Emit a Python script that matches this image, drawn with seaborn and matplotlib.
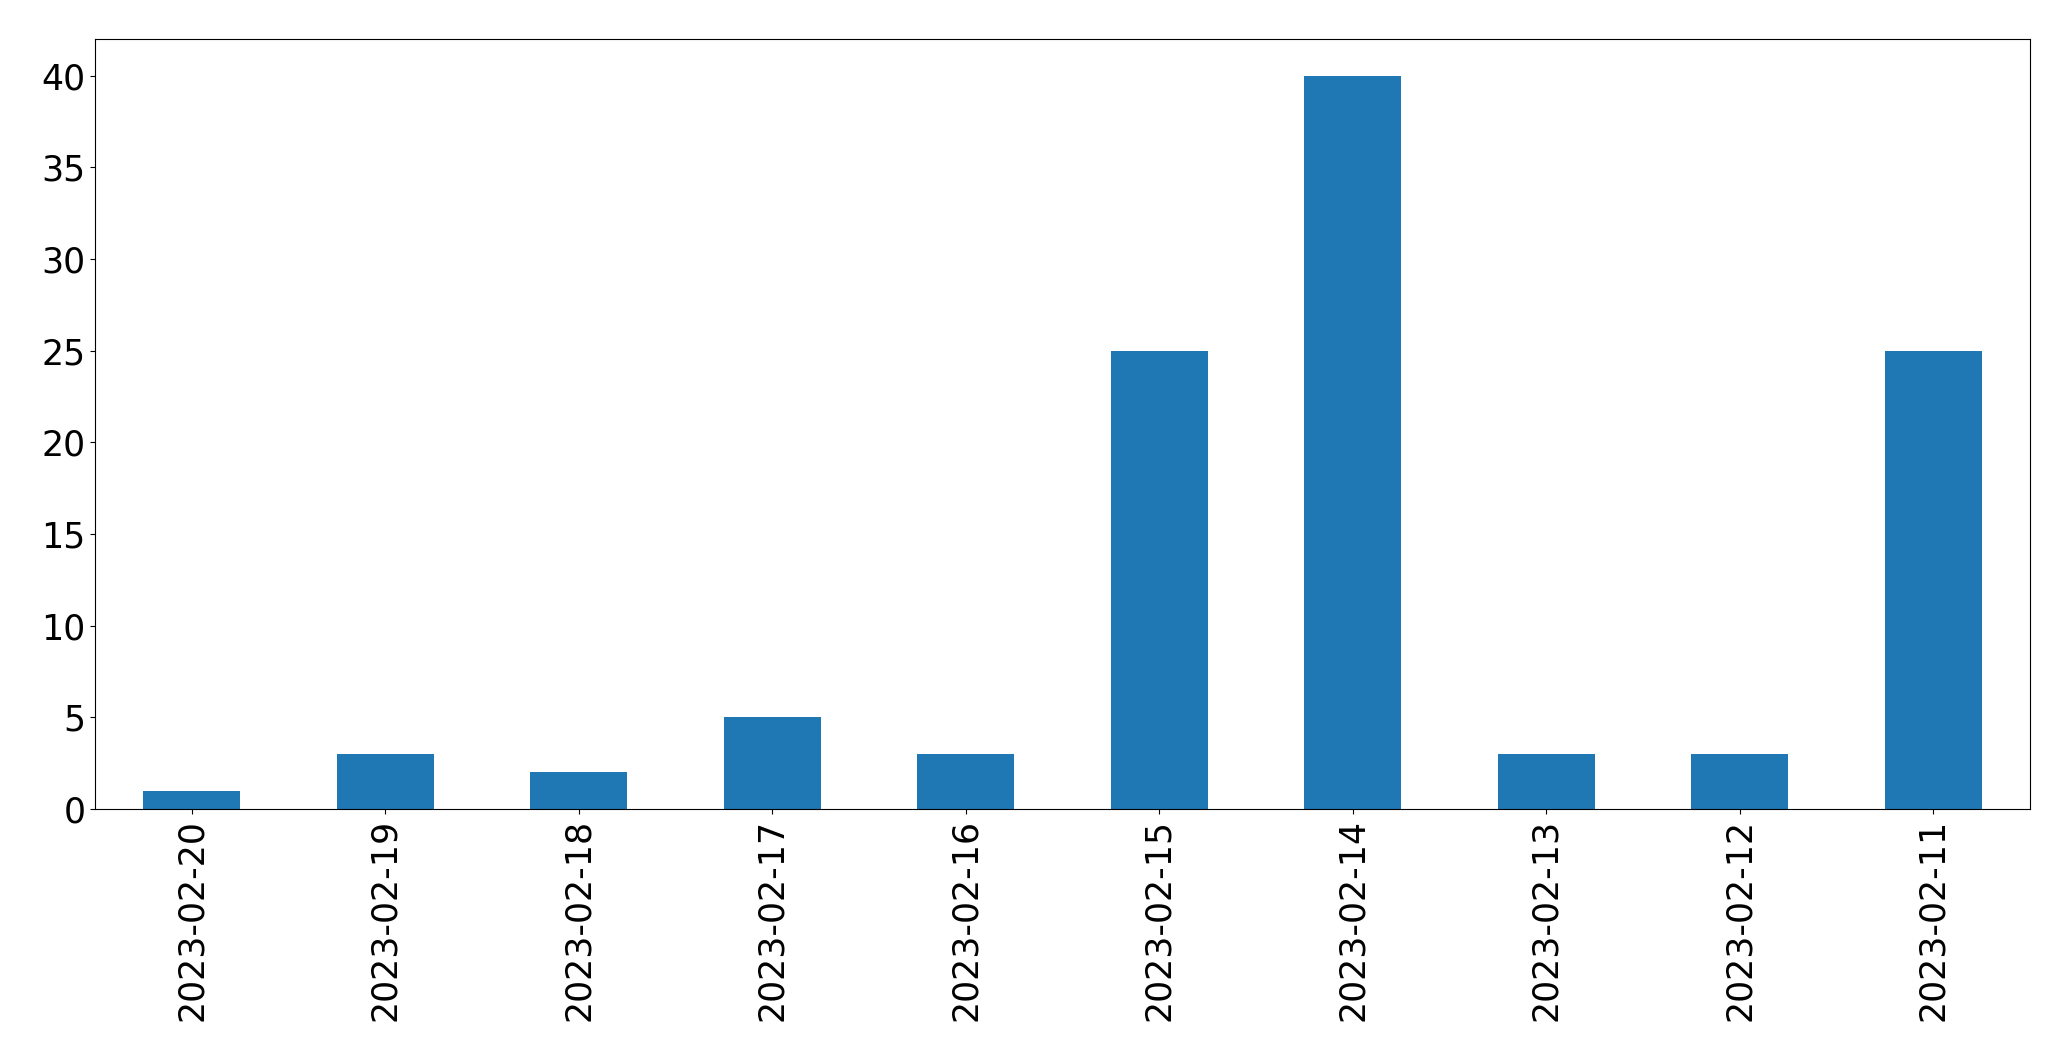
import matplotlib
matplotlib.use("Agg")
import matplotlib.pyplot as plt
import seaborn as sns
import pandas as pd

dates = ["2023-02-20", "2023-02-19", "2023-02-18", "2023-02-17", "2023-02-16",
         "2023-02-15", "2023-02-14", "2023-02-13", "2023-02-12", "2023-02-11"]
counts = [1, 3, 2, 5, 3, 25, 40, 3, 3, 25]

df = pd.DataFrame({"date": dates, "count": counts})

fig = plt.figure(figsize=(20.71, 10.61), dpi=100)
ax = fig.add_axes([95/2071, 1 - 809/1061, (2030-95)/2071, (809-39)/1061])
sns.barplot(data=df, x="date", y="count", order=dates, color="#1f77b4",
            saturation=1, width=0.5, edgecolor="none", linewidth=0, ax=ax)
ax.set_xlim(-0.5, 9.5)
ax.set_ylim(0, 42)
ax.set_xlabel("")
ax.set_ylabel("")
ax.tick_params(axis="both", labelsize=25)
plt.setp(ax.get_xticklabels(), rotation=90)
fig.savefig("out.png", dpi=100)
